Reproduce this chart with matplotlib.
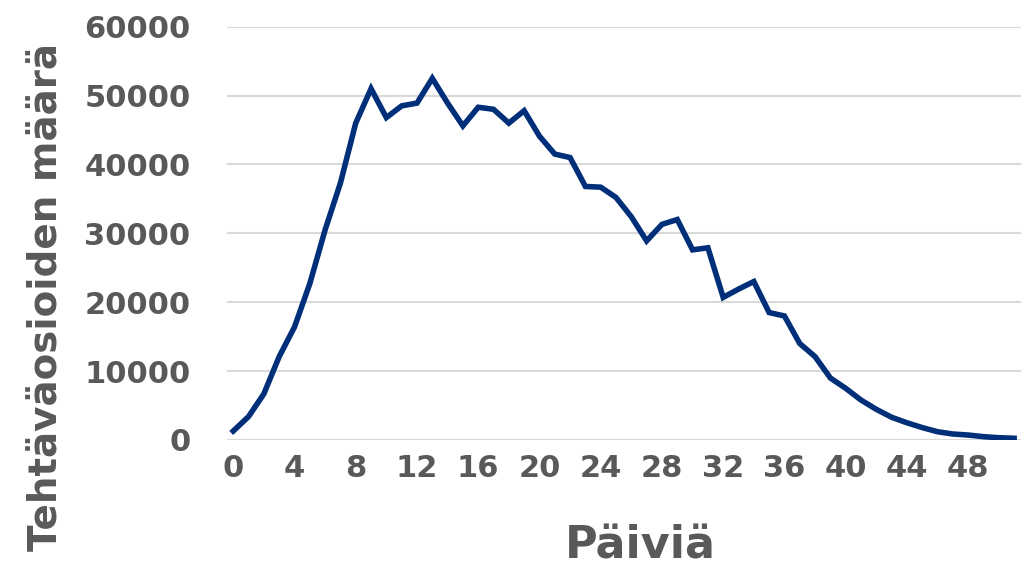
import matplotlib.pyplot as plt

# päivät 0..51 ja tehtäväosioiden määrä
days = list(range(52))
counts = [1300, 3400, 6700, 12100, 16400, 22700, 30500, 37300, 46000, 51000,
          46800, 48500, 48900, 52500, 48900, 45600, 48300, 48000, 46000, 47800,
          44100, 41500, 41000, 36800, 36700, 35200, 32400, 28900, 31300, 32000,
          27600, 27900, 20700, 21900, 23000, 18500, 18000, 14000, 12100, 9000,
          7500, 5800, 4450, 3300, 2500, 1800, 1200, 870, 720, 480,
          330, 250]
xticks = list(range(0, 49, 4))
yticks = [0, 10000, 20000, 30000, 40000, 50000, 60000]

grey = '#595959'
plt.rcParams['font.family'] = 'DejaVu Sans'
plt.rcParams['font.weight'] = 'bold'

fig = plt.figure(figsize=(10.21, 5.67), dpi=100)
ax = fig.add_axes([0.222, 0.224, 0.778, 0.729])

ax.plot(days, counts, color='#002F7A', linewidth=4, solid_joinstyle='miter')

ax.set_xlim(-0.43, 51.45)
ax.set_ylim(0, 60000)
ax.set_xticks(xticks)
ax.set_yticks(yticks)
ax.grid(axis='y', color='#D9D9D9', linewidth=1.5)
ax.set_axisbelow(True)
for s in ax.spines.values():
    s.set_visible(False)
ax.tick_params(axis='both', length=0, labelsize=22, labelcolor=grey)
ax.tick_params(axis='y', pad=26)
ax.tick_params(axis='x', pad=10)
for lab in ax.get_xticklabels() + ax.get_yticklabels():
    lab.set_fontweight('bold')

ax.set_xlabel('Päiviä', fontsize=32, color=grey, fontweight='bold')
ax.xaxis.set_label_coords(0.521, -0.205)
ax.set_ylabel('Tehtäväosioiden määrä', fontsize=28, color=grey, fontweight='bold')
ax.yaxis.set_label_coords(-0.203, 0.346)

fig.savefig('out.png', dpi=100)
